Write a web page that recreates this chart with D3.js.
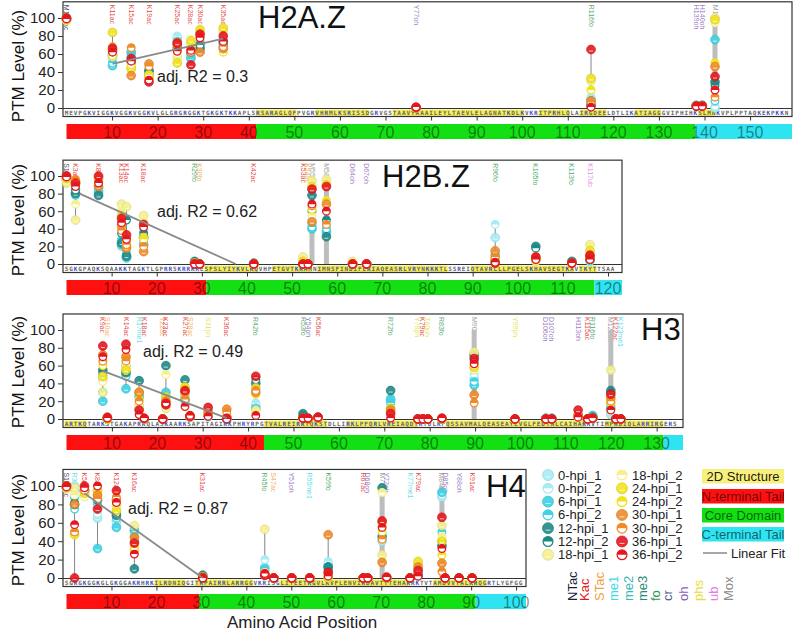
<!DOCTYPE html>
<html>
<head>
<meta charset="utf-8">
<script src="https://cdn.jsdelivr.net/npm/d3@7"></script>
<style>
body { margin: 0; background: #fff; }
svg { display: block; font-family: "Liberation Sans", Arial, sans-serif; }
</style>
</head>
<body>
<svg id="chart" width="800" height="631"></svg>
<script>
// series order: 0_1, 0_2, 6_1, 6_2, 12_1, 12_2, 18_1, 18_2, 24_1, 24_2, 30_1, 30_2, 36_1, 36_2
let seriesNames = ["0-hpi_1","0-hpi_2","6-hpi_1","6-hpi_2","12-hpi_1","12-hpi_2","18-hpi_1",
                   "18-hpi_2","24-hpi_1","24-hpi_2","30-hpi_1","30-hpi_2","36-hpi_1","36-hpi_2"];
let ptmTypes = ["NTac","Kac","STac","me1","me2","me3","fo","cr","oh","phs","ub","Mox"];
let domainNames = ["2D Structure","N-terminal Tail","Core Domain","C-terminal Tail"];

// ---- H2A.Z
let h2azPos = [0, 10.1, 14.2, 18.1, 24.3, 27.3, 29.3, 34.4, 76.7, 115.1, 138.2, 139.5, 142.3];
let h2azLabels = ["M1NTac","K11ac","K15ac","K19ac","K25ac","K28ac","K30ac","K35ac","Y77oh","R116fo","H139oh","H140oh","M143ox"];
let h2azTypes = ["NTac","Kac","Kac","Kac","Kac","Kac","Kac","Kac","oh","fo","oh","oh","Mox"];
let h2azValues = [
  [99,100,98,100,99,100,97,99,100,98,99,100,100,99],
  [55,52,47,50,58,60,60,57,84,58,63,68,66,62],
  [60,58,62,57,52,50,45,42,44,48,36,67,55,52],
  [40,38,36,35,42,40,33,35,34,37,49,46,29,31],
  [78,80,74,70,66,68,56,60,50,64,70,73,72,63],
  [58,56,55,60,62,64,72,68,75,66,64,62,48,64],
  [68,70,72,74,66,70,84,80,87,78,62,80,82,78],
  [72,70,68,72,74,70,86,82,89,62,66,68,80,74],
  [0,0,0,0,0,0,0,0,0,0,0,0,1,1],
  [10,12,8,5,3,2,30,33,33,20,8,6,65,1],
  [2,2,2,2,3,2,2,2,2,2,2,2,2,2],
  [2,2,2,2,3,3,2,2,2,2,2,2,2,2],
  [0,2,76,8,29,25,100,95,98,50,46,12,35,20]
];
let h2azFit = [[10.1, 49], [34.4, 77]];
let h2azR2 = "0.3";
let h2azTails = [41.6, 138];
let h2azHelix = [[42,50],[55,66],[72,100],[104,110],[113,118],[125,130],[139,142]];
let h2azSeq = "MEVPGKVIGGKVGGKVGGKVLGLGRGRGGKTGKGKTKKAPLSRSARAGLQFPVGRVHRMLKSRISSDGRVGSTAAVYAAAILEYLTAEVLELAGNATKDLKVKRITPRHLQLAIRGDEELDTLIKATIAGGGVIPHIHKSLMNKVPLPPTAQKEKPKKNGA";

// ---- H2B.Z
let h2bzPos = [0, 2.0, 7.1, 12.2, 13.3, 17.1, 28.4, 29.5, 41.5, 52.4, 53.5, 54.4, 57.6, 63.4, 66.5, 95.0, 104.0, 112.0, 116.0];
let h2bzLabels = ["S1NTac","K3ac","K8ac","K13ac","K14ac","K18ac","R29fo","K30fo","K42ac","K53ac","K54ac","M55ox","M58ox","D64oh","D67oh","R96fo","K105fo","K113fo","K117ub"];
let h2bzTypes = ["NTac","Kac","Kac","Kac","Kac","Kac","fo","STac","Kac","Kac","STac","Mox","Mox","oh","oh","fo","fo","fo","ub"];
let h2bzValues = [
  [95,97,96,98,99,100,92,95,97,98,99,100,100,99],
  [85,82,80,78,80,84,50,68,95,90,92,96,92,88],
  [86,84,82,80,78,90,96,94,98,92,88,95,100,92],
  [20,25,22,28,24,35,68,60,55,40,44,38,52,47],
  [8,10,7,12,9,50,65,30,20,25,18,22,33,28],
  [40,38,22,25,30,35,55,48,30,28,14,20,45,42],
  [2,1,2,1,3,2,1,1,1,1,1,1,0,0],
  [0,0,0,0,0,0,0,0,0,0,0,0,0,0],
  [0,0,0,0,1,1,0,0,0,0,0,0,0,0],
  [0,0,0,0,0,0,8,5,3,2,0,0,0,0],
  [0,0,0,0,0,0,0,0,0,0,0,0,0,0],
  [45,50,40,42,78,60,95,55,88,62,48,66,85,68],
  [38,42,36,40,31,50,96,92,90,72,68,45,88,60],
  [0,0,0,0,0,0,3,2,0,0,0,0,0,0],
  [0,0,0,0,0,0,0,0,0,0,0,0,0,0],
  [30,45,10,8,5,4,6,5,4,3,15,8,1,2],
  [4,5,6,5,20,18,3,4,5,6,6,8,8,5],
  [1,1,2,2,3,2,1,1,1,1,1,1,1,1],
  [3,4,5,4,6,5,22,18,15,10,8,6,10,5]
];
let h2bzFit = [[2.9, 80], [37.5, 0]];
let h2bzR2 = "0.62";
let h2bzTails = [31, 117];
let h2bzHelix = [[31,42],[46,54],[56,84],[90,112],[114,117]];
let h2bzSeq = "SGKGPAQKSQAAKKTAGKTLGPRRSKRRKKESFSLYIYKVLKQVHPETGVTKKAMNIMNSFINDIFERIAQEASRLVRYNKKKTLSSREIQTAVRLLLPGELSKHAVSEGTKAVTKYTTSAA";

// ---- H3
let h3Pos = [8.0, 9.0, 13.1, 16.0, 17.1, 21.2, 21.9, 26.1, 27.2, 31.2, 35.3, 41.7, 52.1, 53.2, 55.4, 71.4,
             77.4, 78.5, 79.6, 82.7, 89.8, 98.8, 105.6, 106.9, 112.7, 114.8, 115.9, 119.9, 121.0, 122.1];
let h3Labels = ["K9ac","S10ac","K14ac","R17me1","K18ac","T22ac","K23ac","K27ac","S28ac","S31ph","K36ac","R42fo",
                "R53fo","Y54oh","K56ac","R72fo","Y78ph","K79ac","T80ph","R83fo","M90ox","Y99ph","D106oh","D107oh",
                "H113oh","K115ac","R116fo","M120ox","K122ac","K123me1"];
let h3Types = ["Kac","STac","Kac","me1","Kac","STac","Kac","Kac","STac","phs","Kac","fo",
               "fo","oh","Kac","fo","phs","Kac","phs","fo","Mox","phs","oh","oh",
               "oh","Kac","fo","Mox","Kac","me1"];
let h3Values = [
  [45,50,20,30,55,52,30,42,48,60,72,65,82,70],
  [0,0,0,0,0,0,0,0,0,0,1,1,2,1],
  [50,55,34,48,52,60,58,62,55,68,70,65,84,78],
  [12,15,25,28,43,30,15,12,30,22,30,20,10,5],
  [0,0,0,0,0,0,0,0,0,0,0,0,1,1],
  [0,0,0,0,0,0,0,0,0,0,0,0,0,0],
  [25,22,30,18,60,20,12,50,25,18,20,16,16,18],
  [20,24,22,26,44,32,30,35,36,28,30,22,32,14],
  [2,2,3,2,3,2,3,2,4,3,3,2,3,4],
  [3,2,4,3,5,4,6,5,6,4,8,6,13,3],
  [0,0,1,0,0,0,1,1,2,1,11,8,1,0],
  [15,18,12,10,40,44,10,8,35,28,30,32,48,4],
  [1,1,2,2,6,4,1,1,1,1,1,1,1,1],
  [0,0,0,0,0,0,0,0,0,0,0,0,1,1],
  [1,1,1,1,2,1,1,1,1,1,1,1,2,2],
  [20,24,22,18,32,12,8,10,12,8,10,8,6,1],
  [0,0,0,0,0,0,0,0,0,0,0,0,0,0],
  [0,0,0,0,0,0,0,0,0,0,0,0,0,0],
  [0,0,0,0,0,0,0,0,0,0,0,0,0,0],
  [0,0,0,0,0,0,0,0,0,0,0,0,1,1],
  [45,50,38,42,72,65,75,55,58,60,27,18,68,62],
  [0,0,0,0,0,0,0,0,0,0,0,0,0,0],
  [0,1,1,1,0,0,0,0,0,0,0,0,0,0],
  [0,0,1,1,0,0,0,0,0,0,0,0,0,0],
  [2,2,3,3,4,3,2,2,3,3,4,4,10,2],
  [0,0,0,0,0,0,0,0,0,0,0,0,0,0],
  [2,3,4,3,2,2,1,1,1,1,1,1,1,1],
  [5,8,12,15,32,30,55,20,18,22,24,20,28,10],
  [0,0,0,0,0,0,0,0,0,0,0,0,0,0],
  [0,0,0,0,0,0,0,0,0,0,0,0,0,0]
];
let h3Fit = [[8, 54], [35.3, 1]];
let h3R2 = "0.49";
let h3Tails = [43.5, 131.5];
let h3Helix = [[0,4],[44,57],[62,77],[84,114],[119,131]];
let h3Seq = "ARTKQTARKSTGAKAPRKQLASKAARKSAPITAGIKKPHRYRPGTVALREIRRYQKSTDLLIRKLPFQRLVREIAQDYKTDLRFQSSAVMALQEASEAYLVGLFEDTNLCAIHAKRVTIMPKDIQLARRIRGERS";

// ---- H4
let h4Pos = [0, 1.8, 4.0, 6.9, 11.1, 15.1, 30.3, 44.1, 46.1, 50.1, 54.1, 58.2, 66.0, 67.0, 70.2, 71.2, 76.4, 78.2, 83.5, 84.2, 87.3, 90.2];
let h4Labels = ["S1NTac","R3me1","K5ac","K8ac","K12ac","K16ac","K31ac","R45fo","S47ac","Y51oh","R55me1","K59fo",
                "R67ac","D68oh","M71ox","Y72oh","K77me1","K79ac","M84ox","D85oh","Y88oh","K91ac"];
let h4Types = ["NTac","me1","Kac","Kac","Kac","Kac","Kac","fo","STac","oh","me1","fo",
               "Kac","oh","Mox","oh","me1","Kac","Mox","oh","oh","Kac"];
let h4Values = [
  [99,100,98,100,99,100,97,99,100,98,99,100,100,99],
  [100,95,88,75,80,82,98,90,47,50,80,50,0,58],
  [96,94,95,92,94,96,90,88,92,94,96,95,100,98],
  [65,70,32,80,85,88,95,92,95,90,90,86,75,100],
  [62,58,55,65,68,70,78,75,73,80,85,88,95,82],
  [50,48,52,45,10,40,57,35,30,33,44,42,38,26],
  [1,1,2,2,3,2,1,1,1,1,1,1,0,0],
  [12,20,10,8,5,4,53,6,4,3,3,4,3,5],
  [0,0,0,0,0,0,0,0,0,0,0,0,0,0],
  [0,0,0,0,0,0,0,0,0,0,0,0,0,0],
  [0,0,0,0,0,0,0,0,0,0,0,0,0,0],
  [15,18,12,10,12,8,2,3,0,4,47,5,6,2],
  [0,0,0,0,0,0,0,0,0,0,0,0,0,0],
  [0,0,0,0,0,0,0,0,0,0,0,0,0,0],
  [40,48,45,44,98,45,25,93,60,50,17,42,62,55],
  [0,0,0,0,0,0,0,0,0,0,0,0,1,1],
  [0,0,0,0,0,0,0,0,0,0,0,0,0,0],
  [3,4,4,3,3,2,15,12,18,8,12,10,8,2],
  [88,90,93,50,35,40,57,45,40,25,16,7,66,32],
  [0,0,0,0,0,0,0,0,0,0,0,0,0,0],
  [0,0,0,0,0,0,0,0,0,0,0,0,0,0],
  [0,0,0,0,0,0,0,0,0,0,0,0,0,0]
];
let h4Fit = [[4, 92], [30.3, 0]];
let h4R2 = "0.87";
let h4Tails = [29.5, 91];
let h4Helix = [[20,26],[29,41],[48,76],[82,93]];
let h4Seq = "SGRGKGGKGLGKGGAKRHRKILRDNIQGITKPAIRRLARRGGVKRISGLIYEETRGVLKVFLENVIRDAVTYTEHAKRKTVTAMDVVYALKRQGRTLYGFGG";

// ---- styles
let timeColors = ["#a6ecf4","#3dd2e4","#1e8a86","#f6ef8c","#f1e21e","#ef8b2a","#e5161e"];
let typeColors = {NTac:"#1c1c3c", Kac:"#e01b1b", STac:"#f0a040", me1:"#3fd8e6", me2:"#38b8b8", me3:"#2a8a7a",
                  fo:"#2e9a4e", cr:"#56608a", oh:"#8a5fb8", phs:"#e6dc3a", ub:"#e27be2", Mox:"#8c8c8c"};
let domainColors = ["#f8f07c","#ff1010","#12e012","#2ee4f0"];

let svg = d3.select("#chart");

let panels = [
  {name:"H2A.Z", pos:h2azPos, labels:h2azLabels, types:h2azTypes, values:h2azValues, fit:h2azFit, r2:h2azR2,
   tails:h2azTails, helix:h2azHelix, seq:h2azSeq, xmax:159.2, right:792, y0:108, y100:18, ticks:15,
   title:[258, 28], r2pos:[157, 82], yTitle:66},
  {name:"H2B.Z", pos:h2bzPos, labels:h2bzLabels, types:h2bzTypes, values:h2bzValues, fit:h2bzFit, r2:h2bzR2,
   tails:h2bzTails, helix:h2bzHelix, seq:h2bzSeq, xmax:123.1, right:622, y0:264, y100:176, ticks:12,
   title:[382, 187], r2pos:[157, 217], yTitle:220},
  {name:"H3", pos:h3Pos, labels:h3Labels, types:h3Types, values:h3Values, fit:h3Fit, r2:h3R2,
   tails:h3Tails, helix:h3Helix, seq:h3Seq, xmax:135.8, right:683, y0:419, y100:330, ticks:13,
   title:[641, 340], r2pos:[143, 357], yTitle:372},
  {name:"H4", pos:h4Pos, labels:h4Labels, types:h4Types, values:h4Values, fit:h4Fit, r2:h4R2,
   tails:h4Tails, helix:h4Helix, seq:h4Seq, xmax:102.2, right:526, y0:578, y100:486, ticks:10,
   title:[486, 497], r2pos:[128, 514], yTitle:530}
];

let arcTop = d3.arc().innerRadius(0).startAngle(-Math.PI / 2).endAngle(Math.PI / 2);

function drawMarker(g, cx, cy, colour, rep, r) {
  if (rep === 1) {
    g.append("circle").attr("cx", cx).attr("cy", cy).attr("r", r)
      .attr("fill", colour).attr("fill-opacity", 0.9)
      .attr("stroke", d3.color(colour).darker(0.3)).attr("stroke-width", 0.7);
    g.append("line").attr("x1", cx - r * 0.45).attr("x2", cx + r * 0.45)
      .attr("y1", cy + r * 0.35).attr("y2", cy + r * 0.35)
      .attr("stroke", "#fff").attr("stroke-width", 0.9).attr("opacity", 0.8);
  } else {
    g.append("circle").attr("cx", cx).attr("cy", cy).attr("r", r - 0.6)
      .attr("fill", "#fff").attr("stroke", colour).attr("stroke-width", 1.3);
    g.append("path").attr("transform", "translate(" + cx + "," + cy + ")")
      .attr("d", arcTop.outerRadius(r - 0.6)()).attr("fill", colour);
  }
}

panels.forEach(function(p) {
  let x = d3.scaleLinear().domain([0, p.xmax]).range([66.5, p.right]);
  let y = d3.scaleLinear().domain([0, 100]).range([p.y0, p.y100]);
  let top = y(118), bottom = p.y0 + 8.5, barY = p.y0 + 16;
  let g = svg.append("g");

  // helix highlights + sequence
  p.helix.forEach(function(h) {
    g.append("rect").attr("x", x(h[0]) - 2).attr("y", p.y0 + 1.5)
      .attr("width", x(h[1]) - x(h[0]) + 4).attr("height", 6.5).attr("fill", "#f6ee5a");
  });
  g.selectAll(".aa").data(p.seq.split("").filter(function(c, i) { return x(i) < p.right - 2; }))
    .enter().append("text")
    .attr("x", function(d, i) { return x(i); })
    .attr("y", p.y0 + 7)
    .attr("text-anchor", "middle")
    .attr("font-family", "DejaVu Sans Mono")
    .attr("font-size", "6px")
    .attr("font-weight", "bold")
    .attr("fill", function(d) { return (d === "K" || d === "R") ? "#3b4cc0" : "#666"; })
    .text(function(d) { return d; });

  // frame
  g.append("rect").attr("x", 63).attr("y", top).attr("width", p.right - 63).attr("height", bottom - top)
    .attr("fill", "none").attr("stroke", "#333").attr("stroke-width", 1.2);
  g.append("line").attr("x1", 63).attr("x2", p.right).attr("y1", p.y0 + 0.5).attr("y2", p.y0 + 0.5)
    .attr("stroke", "#333").attr("stroke-width", 1);

  // y axis
  let yAxis = g.append("g").attr("transform", "translate(63,0)")
    .call(d3.axisLeft(y).tickValues([0, 20, 40, 60, 80, 100]).tickSize(5).tickPadding(3));
  yAxis.select(".domain").remove();
  yAxis.selectAll("text").attr("font-size", "15px").attr("font-family", "Liberation Sans, Arial").attr("fill", "#222");
  yAxis.selectAll("line").attr("stroke", "#333");
  g.append("text").attr("transform", "translate(24," + p.yTitle + ") rotate(-90)")
    .attr("text-anchor", "middle").attr("font-size", "17px").attr("fill", "#111").text("PTM Level (%)");

  // domain bar
  let segs = [[0, p.tails[0], 1], [p.tails[0], p.tails[1], 2], [p.tails[1], p.xmax, 3]];
  segs.forEach(function(s) {
    g.append("rect").attr("x", x(s[0])).attr("y", barY).attr("width", x(s[1]) - x(s[0])).attr("height", 15)
      .attr("fill", domainColors[s[2]]);
  });
  let tickVals = d3.range(1, p.ticks + 1).map(function(k) { return k * 10; });
  let xAxis = g.append("g").attr("transform", "translate(0," + bottom + ")")
    .call(d3.axisBottom(x).tickValues(tickVals).tickSize(4).tickFormat(""));
  xAxis.select(".domain").remove();
  xAxis.selectAll("line").attr("stroke", "#333");
  g.selectAll(".num").data(tickVals).enter().append("text")
    .attr("x", function(d) { return x(d); }).attr("y", barY + 14)
    .attr("text-anchor", "middle").attr("font-size", "16px")
    .attr("fill", "#000").attr("fill-opacity", 0.45)
    .text(function(d) { return d; });

  // site labels
  p.pos.forEach(function(pos, i) {
    g.append("text").attr("transform", "translate(" + x(pos) + "," + (top + 3) + ") rotate(90)")
      .attr("dy", "0.35em").attr("font-size", "7px").attr("fill", typeColors[p.types[i]])
      .attr("fill-opacity", 0.85).text(p.labels[i]);
  });

  // ranges
  p.pos.forEach(function(pos, i) {
    let vals = p.values[i];
    if (p.types[i] === "Mox") {
      g.append("rect").attr("x", x(pos) - 2.5).attr("y", y(100)).attr("width", 5)
        .attr("height", y(0) - y(100)).attr("fill", "#bdbdbd");
    } else if (d3.max(vals) - d3.min(vals) > 3) {
      g.append("line").attr("x1", x(pos)).attr("x2", x(pos))
        .attr("y1", y(d3.min(vals))).attr("y2", y(d3.max(vals)))
        .attr("stroke", "#666").attr("stroke-width", 0.8);
    }
  });

  // markers
  seriesNames.forEach(function(name, s) {
    let colour = timeColors[Math.floor(s / 2)];
    p.pos.forEach(function(pos, i) {
      let v = p.values[i][s];
      if (v == null) return;
      drawMarker(g, x(pos), y(v), colour, s % 2 + 1, 4.4);
    });
  });

  // linear fit
  g.append("line").attr("x1", x(p.fit[0][0])).attr("y1", y(p.fit[0][1]))
    .attr("x2", x(p.fit[1][0])).attr("y2", y(p.fit[1][1]))
    .attr("stroke", "#8a8a8a").attr("stroke-width", 1.8);
  g.append("text").attr("x", p.r2pos[0]).attr("y", p.r2pos[1]).attr("font-size", "16px")
    .attr("fill", "#222").text("adj. R2 = " + p.r2);

  g.append("text").attr("x", p.title[0]).attr("y", p.title[1]).attr("font-size", "31px")
    .attr("fill", "#111").text(p.name);
});

svg.append("text").attr("x", 302).attr("y", 628).attr("text-anchor", "middle")
  .attr("font-size", "17px").attr("fill", "#222").text("Amino Acid Position");

// series legend
let leg = svg.append("g");
seriesNames.forEach(function(name, s) {
  let col = s < 7 ? 0 : 1, row = s % 7;
  let lx = col === 0 ? 548 : 622, ly = 475 + row * 13.3;
  drawMarker(leg, lx, ly, timeColors[Math.floor(s / 2)], s % 2 + 1, 5.5);
  leg.append("text").attr("x", lx + 10).attr("y", ly + 4.5).attr("font-size", "13px")
    .attr("fill", "#222").text(name);
});

// domain legend
domainNames.forEach(function(name, i) {
  let by = [469, 489, 508, 527][i];
  leg.append("rect").attr("x", 702).attr("y", by).attr("width", 82).attr("height", 14.5)
    .attr("fill", domainColors[i]);
  leg.append("text").attr("x", 743).attr("y", by + 11.5).attr("text-anchor", "middle")
    .attr("font-size", "13px").attr("fill", "#000").attr("fill-opacity", i === 0 ? 0.9 : 0.6).text(name);
});
leg.append("line").attr("x1", 703).attr("x2", 727).attr("y1", 553).attr("y2", 553)
  .attr("stroke", "#8a8a8a").attr("stroke-width", 1.5);
leg.append("text").attr("x", 731).attr("y", 558).attr("font-size", "13px").attr("fill", "#222").text("Linear Fit");

// PTM type legend
let typeX = [572, 584, 599, 613, 628, 642, 655, 667, 683, 698, 713, 728];
ptmTypes.forEach(function(t, i) {
  leg.append("text").attr("transform", "translate(" + (typeX[i] + 4.5) + ",601) rotate(-90)")
    .attr("font-size", "13px").attr("fill", typeColors[t]).text(t);
});
</script>
</body>
</html>
